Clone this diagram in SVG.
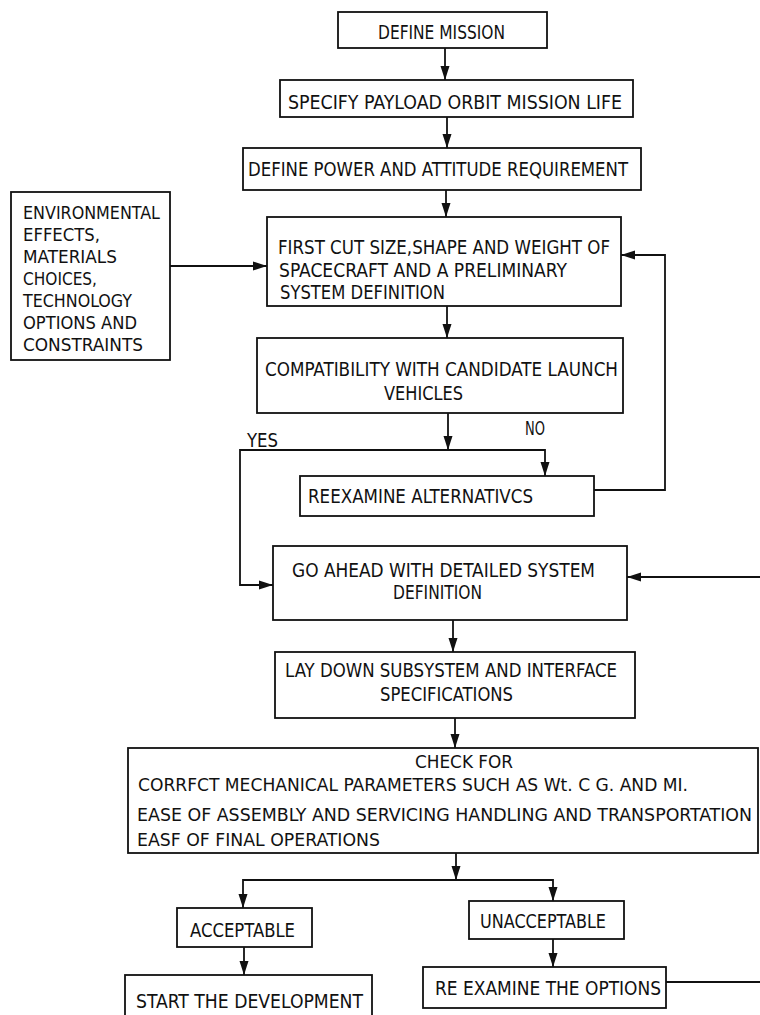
<svg xmlns="http://www.w3.org/2000/svg" width="760" height="1015" viewBox="0 0 760 1015">
<style>
.box{fill:#fff;stroke:#111;stroke-width:1.8}
.c{fill:none;stroke:#111;stroke-width:1.8}
text{font-family:"DejaVu Sans Condensed","Liberation Sans Narrow","Liberation Sans",sans-serif;font-size:20px;fill:#111}
.s{font-size:18px}
.m{font-size:19px}
.l{font-size:18px}
</style>
<defs>
<marker id="ah" markerUnits="userSpaceOnUse" markerWidth="14" markerHeight="10" viewBox="0 0 14 10" refX="14" refY="5" orient="auto">
<path d="M0,0.5 L14,5 L0,9.5 Z" fill="#111"/>
</marker>
</defs>
<rect width="760" height="1015" fill="#fff"/>
<g id="connectors">
<path class="c" d="M445,48 V80" marker-end="url(#ah)"/>
<path class="c" d="M447,117 V148" marker-end="url(#ah)"/>
<path class="c" d="M446,190 V217" marker-end="url(#ah)"/>
<path class="c" d="M170,266 H267" marker-end="url(#ah)"/>
<path class="c" d="M447,306 V338" marker-end="url(#ah)"/>
<path class="c" d="M448,413 V450" marker-end="url(#ah)"/>
<path class="c" d="M448,450 H545 V476" marker-end="url(#ah)"/>
<path class="c" d="M448,450 H240 V585 H273" marker-end="url(#ah)"/>
<path class="c" d="M594,490 H665 V255 H621" marker-end="url(#ah)"/>
<path class="c" d="M760,577 H627" marker-end="url(#ah)"/>
<path class="c" d="M453,620 V652" marker-end="url(#ah)"/>
<path class="c" d="M455,718 V748" marker-end="url(#ah)"/>
<path class="c" d="M456,853 V880" marker-end="url(#ah)"/>
<path class="c" d="M456,880 H243 V908" marker-end="url(#ah)"/>
<path class="c" d="M456,880 H553 V901" marker-end="url(#ah)"/>
<path class="c" d="M244,947 V975" marker-end="url(#ah)"/>
<path class="c" d="M553,939 V967" marker-end="url(#ah)"/>
<path class="c" d="M666,982 H760"/>
</g>
<g id="labels">
<text class="m" x="247" y="447" textLength="31" lengthAdjust="spacingAndGlyphs">YES</text>
<text class="m" x="525" y="435" textLength="20" lengthAdjust="spacingAndGlyphs">NO</text>
</g>
<g id="n1"><rect class="box" x="338" y="12" width="209" height="36"/>
<text x="378" y="39" textLength="127" lengthAdjust="spacingAndGlyphs">DEFINE MISSION</text></g>
<g id="n2"><rect class="box" x="280" y="80" width="353" height="37"/>
<text x="288" y="109" textLength="334" lengthAdjust="spacingAndGlyphs">SPECIFY PAYLOAD ORBIT MISSION LIFE</text></g>
<g id="n3"><rect class="box" x="243" y="148" width="398" height="42"/>
<text x="248" y="176" textLength="380" lengthAdjust="spacingAndGlyphs">DEFINE POWER AND ATTITUDE REQUIREMENT</text></g>
<g id="n4"><rect class="box" x="11" y="192" width="159" height="168"/>
<text class="l" x="23" y="219" textLength="137" lengthAdjust="spacingAndGlyphs">ENVIRONMENTAL</text>
<text class="l" x="23" y="241" textLength="77" lengthAdjust="spacingAndGlyphs">EFFECTS,</text>
<text class="l" x="23" y="263" textLength="94" lengthAdjust="spacingAndGlyphs">MATERIALS</text>
<text class="l" x="23" y="285" textLength="74" lengthAdjust="spacingAndGlyphs">CHOICES,</text>
<text class="l" x="23" y="307" textLength="109" lengthAdjust="spacingAndGlyphs">TECHNOLOGY</text>
<text class="l" x="23" y="329" textLength="114" lengthAdjust="spacingAndGlyphs">OPTIONS AND</text>
<text class="l" x="23" y="351" textLength="120" lengthAdjust="spacingAndGlyphs">CONSTRAINTS</text></g>
<g id="n5"><rect class="box" x="267" y="217" width="354" height="89"/>
<text x="278" y="254" textLength="332" lengthAdjust="spacingAndGlyphs">FIRST CUT SIZE,SHAPE AND WEIGHT OF</text>
<text x="279" y="277" textLength="288" lengthAdjust="spacingAndGlyphs">SPACECRAFT AND A PRELIMINARY</text>
<text x="280" y="299" textLength="165" lengthAdjust="spacingAndGlyphs">SYSTEM DEFINITION</text></g>
<g id="n6"><rect class="box" x="257" y="338" width="366" height="75"/>
<text x="265" y="376" textLength="353" lengthAdjust="spacingAndGlyphs">COMPATIBILITY WITH CANDIDATE LAUNCH</text>
<text x="384" y="400" textLength="79" lengthAdjust="spacingAndGlyphs">VEHICLES</text></g>
<g id="n7"><rect class="box" x="300" y="476" width="294" height="40"/>
<text x="308" y="503" textLength="225" lengthAdjust="spacingAndGlyphs">REEXAMINE ALTERNATIVCS</text></g>
<g id="n8"><rect class="box" x="273" y="546" width="354" height="74"/>
<text x="292" y="577" textLength="303" lengthAdjust="spacingAndGlyphs">GO AHEAD WITH DETAILED SYSTEM</text>
<text class="m" x="393" y="599" textLength="89" lengthAdjust="spacingAndGlyphs">DEFINITION</text></g>
<g id="n9"><rect class="box" x="275" y="652" width="360" height="66"/>
<text x="285" y="677" textLength="332" lengthAdjust="spacingAndGlyphs">LAY DOWN SUBSYSTEM AND INTERFACE</text>
<text class="m" x="380" y="701" textLength="133" lengthAdjust="spacingAndGlyphs">SPECIFICATIONS</text></g>
<g id="n10"><rect class="box" x="128" y="748" width="630" height="105"/>
<text class="s" x="415" y="768" textLength="98" lengthAdjust="spacingAndGlyphs">CHECK  FOR</text>
<text class="s" x="138" y="791" textLength="550" lengthAdjust="spacingAndGlyphs">CORRFCT MECHANICAL PARAMETERS SUCH AS Wt. C G. AND MI.</text>
<text class="s" x="137" y="821" textLength="615" lengthAdjust="spacingAndGlyphs">EASE OF ASSEMBLY AND SERVICING HANDLING AND TRANSPORTATION</text>
<text class="s" x="137" y="846" textLength="243" lengthAdjust="spacingAndGlyphs">EASF OF FINAL OPERATIONS</text></g>
<g id="n11"><rect class="box" x="177" y="908" width="135" height="39"/>
<text class="m" x="190" y="937" textLength="105" lengthAdjust="spacingAndGlyphs">ACCEPTABLE</text></g>
<g id="n12"><rect class="box" x="469" y="901" width="155" height="38"/>
<text class="m" x="480" y="928" textLength="126" lengthAdjust="spacingAndGlyphs">UNACCEPTABLE</text></g>
<g id="n13"><rect class="box" x="125" y="975" width="247" height="50"/>
<text class="m" x="136" y="1008" textLength="227" lengthAdjust="spacingAndGlyphs">START THE DEVELOPMENT</text></g>
<g id="n14"><rect class="box" x="423" y="967" width="243" height="41"/>
<text class="m" x="435" y="995" textLength="226" lengthAdjust="spacingAndGlyphs">RE EXAMINE THE OPTIONS</text></g>
</svg>
